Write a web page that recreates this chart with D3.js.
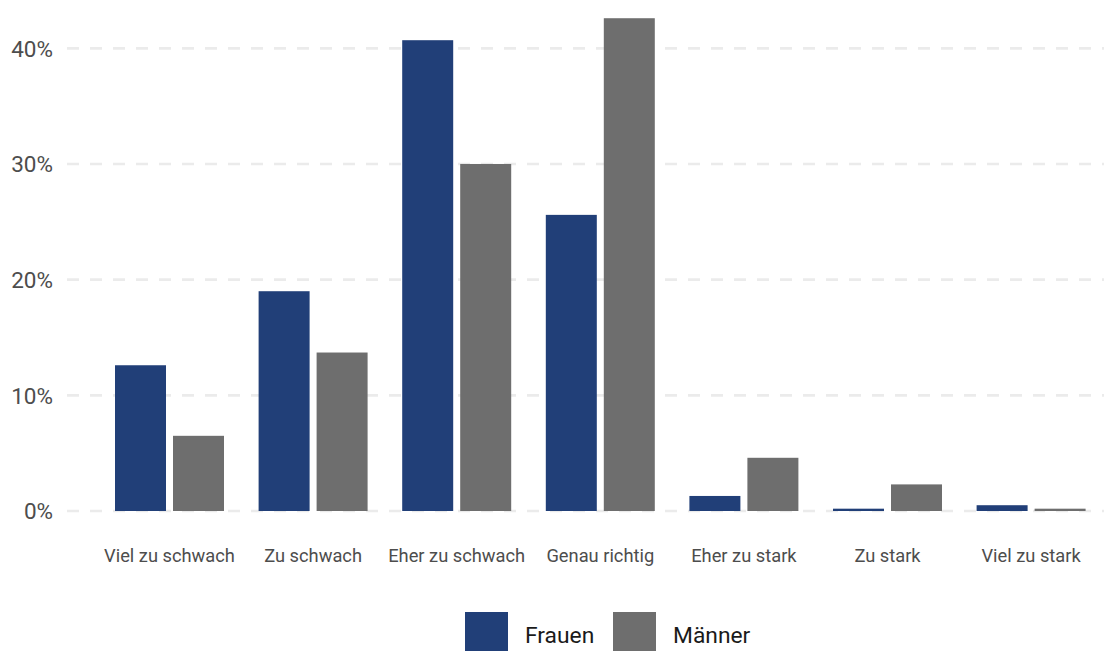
<!DOCTYPE html>
<html>
<head>
<meta charset="utf-8">
<script src="https://cdn.jsdelivr.net/npm/d3@7"></script>
<style>
  html, body { margin: 0; padding: 0; background: #ffffff; }
  svg { display: block; font-family: Roboto, "Noto Sans", sans-serif; }
</style>
</head>
<body>
<svg id="chart" width="1114" height="651"></svg>
<script>
// ---- data ----
const categories = ["Viel zu schwach", "Zu schwach", "Eher zu schwach", "Genau richtig", "Eher zu stark", "Zu stark", "Viel zu stark"];
const seriesNames = ["Frauen", "Männer"];
const frauen = [12.6, 19.0, 40.7, 25.6, 1.3, 0.2, 0.5];
const maenner = [6.5, 13.7, 30.0, 42.6, 4.6, 2.3, 0.2];
const yTicks = [0, 10, 20, 30, 40];
const yTickLabels = ["0%", "10%", "20%", "30%", "40%"];
const colors = ["#213f78", "#6e6e6e"];

const seriesValues = [frauen, maenner];

const svg = d3.select("#chart");

const x0 = d3.scaleBand().domain(categories).range([97.7, 1102.9]).paddingInner(0.241).paddingOuter(0.1205);
const x1 = d3.scaleBand().domain(seriesNames).range([0, x0.bandwidth()]).paddingInner(7 / 58).paddingOuter(0);
const y = d3.scaleLinear().domain([0, 40]).range([511, 48.3]);
const color = d3.scaleOrdinal().domain(seriesNames).range(colors);

// grid lines
const grid = svg.append("g");
grid.selectAll("line").data(yTicks).join("line")
  .attr("x1", 67).attr("x2", 1104)
  .attr("y1", d => y(d)).attr("y2", d => y(d))
  .attr("stroke", "#ebebeb").attr("stroke-width", 2.7)
  .attr("stroke-dasharray", "12,11");

// y axis labels
const yAxis = d3.axisLeft(y).tickValues(yTicks).tickFormat((d, i) => yTickLabels[i]).tickSize(0).tickPadding(0);
const yg = svg.append("g").attr("transform", "translate(53,0)").call(yAxis);
yg.select(".domain").remove();
yg.selectAll("text").attr("font-size", 22.5).attr("fill", "#4d4d4d").attr("font-family", "Roboto").attr("dy", "0.35em");

// bars
const rows = categories.map((c, i) => ({ cat: c, vals: seriesNames.map((s, j) => ({ s, v: seriesValues[j][i] })) }));
const groups = svg.append("g").selectAll("g").data(rows).join("g")
  .attr("transform", d => `translate(${x0(d.cat)},0)`);
groups.selectAll("rect").data(d => d.vals).join("rect")
  .attr("x", d => x1(d.s))
  .attr("width", x1.bandwidth())
  .attr("y", d => y(d.v))
  .attr("height", d => y(0) - y(d.v))
  .attr("fill", d => color(d.s));

// x axis labels
const xAxis = d3.axisBottom(x0).tickSize(0).tickPadding(0);
const xg = svg.append("g").attr("transform", "translate(0,548)").call(xAxis);
xg.select(".domain").remove();
xg.selectAll("text").attr("font-size", 18.3).attr("fill", "#4d4d4d").attr("font-family", "Roboto").attr("dy", "0.78em");

// legend
const legendX = [465, 613];
const leg = svg.append("g").selectAll("g").data(seriesNames).join("g")
  .attr("transform", (d, i) => `translate(${legendX[i]},612)`);
leg.append("rect").attr("width", 43).attr("height", 43).attr("fill", d => color(d));
leg.append("text").attr("x", 60).attr("y", 30.7).text(d => d)
  .attr("font-size", 22.8).attr("fill", "#1a1a1a").attr("font-family", "Roboto");
</script>
</body>
</html>
